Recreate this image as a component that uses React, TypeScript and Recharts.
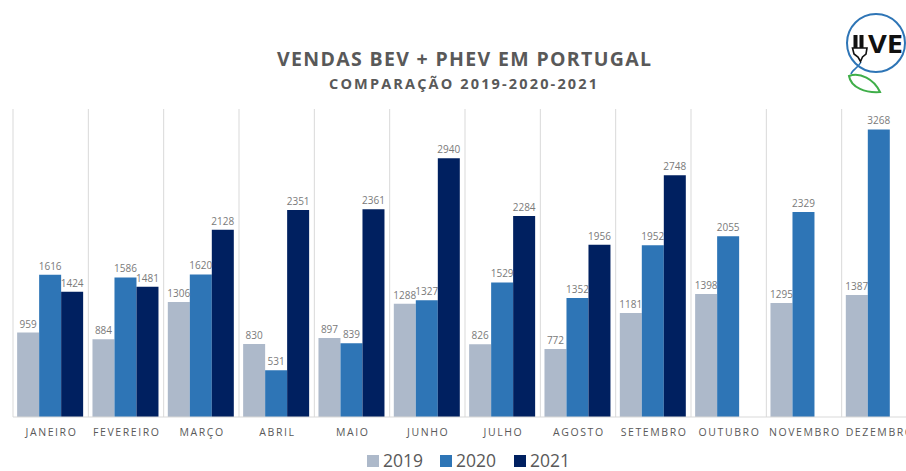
import React from 'react';
import { BarChart, Bar, XAxis, YAxis, CartesianGrid, LabelList } from 'recharts';

const categories = ['JANEIRO', 'FEVEREIRO', 'MARÇO', 'ABRIL', 'MAIO', 'JUNHO', 'JULHO', 'AGOSTO', 'SETEMBRO', 'OUTUBRO', 'NOVEMBRO', 'DEZEMBRO'];
const sales2019 = [959, 884, 1306, 830, 897, 1288, 826, 772, 1181, 1398, 1295, 1387];
const sales2020 = [1616, 1586, 1620, 531, 839, 1327, 1529, 1352, 1952, 2055, 2329, 3268];
const sales2021: (number | null)[] = [1424, 1481, 2128, 2351, 2361, 2940, 2284, 1956, 2748, null, null, null];

const seriesNames = ['2019', '2020', '2021'];
const seriesColors = ['#ADB9CA', '#2E75B6', '#002060'];

const data = categories.map((m, i) => ({
  month: m,
  s2019: sales2019[i],
  s2020: sales2020[i],
  s2021: sales2021[i],
}));

const FONT = '"Open Sans", "Noto Sans", sans-serif';
const TEXT = '#595959';

const Tick = (props: any) => {
  const { x, y, payload } = props;
  return (
    <text
      x={x}
      y={y + 15}
      dx={0.8}
      textAnchor="middle"
      dominantBaseline="central"
      fill={TEXT}
      fontSize={10.5}
      letterSpacing={1.6}
      fontFamily={FONT}
    >
      {payload.value}
    </text>
  );
};

const ValueLabel = (props: any) => {
  const { x, y, width, value } = props;
  if (value === null || value === undefined) return null;
  return (
    <text
      x={x + width / 2}
      y={y - 5}
      textAnchor="middle"
      fill="#7a7a7a"
      fontSize={10}
      fontFamily={FONT}
    >
      {value}
    </text>
  );
};

const keys = ['s2019', 's2020', 's2021'];

export default function App() {
  return (
    <div
      style={{
        position: 'absolute',
        left: 0,
        top: 0,
        width: 906,
        height: 471,
        overflow: 'hidden',
        background: '#ffffff',
        fontFamily: FONT,
      }}
    >
      <BarChart
        width={930}
        height={471}
        data={data}
        margin={{ top: 109, right: 13, left: 13, bottom: 0 }}
        barCategoryGap="5.5%"
        barGap={0}
      >
        <CartesianGrid
          horizontal={false}
          vertical={true}
          stroke="#D9D9D9"
          verticalCoordinatesGenerator={(p: any) => {
            const off = p.offset;
            return categories.map((_, i) => off.left + (i * off.width) / categories.length).concat([off.left + off.width]);
          }}
        />
        <XAxis
          dataKey="month"
          height={54}
          tickLine={false}
          tickSize={0}
          tickMargin={0}
          axisLine={{ stroke: '#D9D9D9' }}
          tick={<Tick />}
          interval={0}
        />
        <YAxis hide domain={[0, 3500]} />
        {keys.map((k, i) => (
          <Bar key={k} dataKey={k} name={seriesNames[i]} fill={seriesColors[i]} isAnimationActive={false}>
            <LabelList dataKey={k} content={<ValueLabel />} />
          </Bar>
        ))}
      </BarChart>

      <svg
        width={906}
        height={471}
        style={{ position: 'absolute', left: 0, top: 0, pointerEvents: 'none' }}
      >
        <text
          x={464}
          y={66}
          textAnchor="middle"
          fill={TEXT}
          fontSize={19.5}
          fontWeight={700}
          fontFamily={FONT}
          textLength={374}
          lengthAdjust="spacing"
        >
          VENDAS BEV + PHEV EM PORTUGAL
        </text>
        <text
          x={463}
          y={89}
          textAnchor="middle"
          fill={TEXT}
          fontSize={14.5}
          fontWeight={700}
          fontFamily={FONT}
          textLength={268}
          lengthAdjust="spacing"
        >
          COMPARAÇÃO 2019-2020-2021
        </text>

        {seriesNames.map((n, i) => {
          const sx = [367, 440, 514][i];
          return (
            <g key={n}>
              <rect x={sx} y={455} width={12} height={12} fill={seriesColors[i]} />
              <text x={sx + 16} y={467} fill={TEXT} fontSize={17.5} fontFamily={FONT}>
                {n}
              </text>
            </g>
          );
        })}

        {/* logo */}
        <g>
          <circle cx={876} cy={43} r={29} fill="#ffffff" stroke="#2E75B6" strokeWidth={2} />
          <path d="M 861 62 C 858 68, 852 70, 851 74" fill="none" stroke="#2E75B6" strokeWidth={1.6} />
          <path
            d="M 849 76 C 860 72, 874 79, 880 92 C 866 93, 851 88, 849 76 Z"
            fill="#ffffff"
            stroke="#3FAE49"
            strokeWidth={2}
          />
          <rect x={853.5} y={35} width={4} height={13} fill="#111111" />
          <rect x={859.5} y={35} width={4} height={13} fill="#111111" />
          <path d="M 852.5 48 L 867 48 L 866 54 L 862.5 57 L 860.5 61.5 L 858 57 L 854 54 Z" fill="#ffffff" stroke="#111111" strokeWidth={1.6} />
          <text x={868} y={53} fill="#111111" fontSize={25} fontWeight={700} fontFamily={FONT} textLength={35} lengthAdjust="spacingAndGlyphs">
            VE
          </text>
        </g>
      </svg>
    </div>
  );
}
